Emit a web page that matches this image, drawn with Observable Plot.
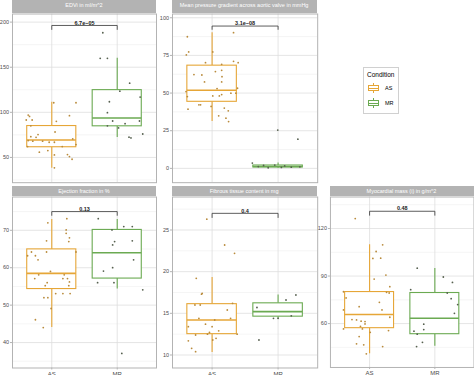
<!DOCTYPE html>
<html><head><meta charset="utf-8">
<script src="https://cdn.jsdelivr.net/npm/d3@7"></script>
<script src="https://cdn.jsdelivr.net/npm/@observablehq/plot@0.6"></script>
<style>
body{margin:0;background:#fff;}
#chart{position:relative;width:474px;height:375px;overflow:hidden;font-family:"Liberation Sans",Arial,sans-serif;}
.strip{position:absolute;background:#b3b3b3;color:#fff;font-size:5.5px;text-align:center;white-space:nowrap;overflow:hidden;}
.panel{position:absolute;}
.legend{position:absolute;border:1px solid #d0d0d0;background:#fff;box-sizing:border-box;}
.legend .title{position:absolute;left:3px;top:3px;font-size:6.5px;color:#000;}
.legend .lab{position:absolute;left:21px;font-size:5.5px;color:#000;}
.glyph{position:absolute;left:4px;width:11px;height:10px;}
.glyph .wl{position:absolute;left:5px;width:1px;top:0;height:10px;}
.glyph .bx{position:absolute;left:0;top:2px;width:9px;height:4px;border:1px solid;background:#fff;}
.glyph .md{position:absolute;left:0;top:4.5px;width:11px;height:1px;}
</style></head><body><div id="chart"></div>
<script>
// ---------- data ----------
const categories = ["AS", "MR"];
const boxColors = ["#E6A637", "#6BAA52"];
const pointColors = ["#b98b3c", "#56604f"];
const titles = ["EDVi in ml/m^2", "Mean pressure gradient across aortic valve in mmHg", "Ejection fraction in %", "Fibrous tissue content in mg", "Myocardial mass (i) in g/m^2"];
const pLabels = ["6.7e\u221205", "3.1e\u221208", "0.13", "0.4", "0.48"];
const bracketY = [196.3, 94.5, 75, 27, 130.9];
const bracketTickY = [191.9, 92.3, 74, 26.5, 128.4];
const yDomains = [[22, 209], [-9.5, 102.5], [33.2, 78.9], [8.44, 28.96], [32.3, 139.9]];
const yTicks = [[50, 100, 150, 200], [0, 25, 50, 75, 100], [40, 50, 60, 70], [10, 15, 20, 25], [60, 90, 120]];
const yMinor = [[25, 75, 125, 175], [12.5, 37.5, 62.5, 87.5], [35, 45, 55, 65, 75], [12.5, 17.5, 22.5, 27.5], [45, 75, 105, 135]];

// [jitter offset, value]
const edviAS = [[0.37,110.6],[0.03,110.6],[-0.36,97],[-0.34,95.5],[-0.30,91.5],[-0.39,91.5],[0.27,96.3],[0.07,90],[-0.32,85],[-0.21,75.3],[-0.24,72.3],[-0.32,73],[0.05,78.2],[-0.36,68.7],[-0.29,68],[-0.14,68],[-0.04,66.8],[0.04,66.8],[-0.37,62],[0.32,70.5],[0.37,64.2],[0.16,62],[-0.19,55.8],[-0.06,57.6],[0.04,52.8],[0.24,53.2],[0.27,51],[0.31,48],[0.04,38.5]];
const edviMR = [[-0.22,188.2],[-0.26,159.9],[-0.15,159.9],[0.19,132.3],[0.04,123.5],[0.35,116.9],[-0.12,111.7],[-0.15,99.6],[-0.07,90.4],[0.12,87.4],[0.34,90.4],[-0.15,85],[0.02,82.7],[0.18,72.4],[0.21,71.6],[0.39,76]];
const mpgAS = [[-0.375,87.4],[0.325,90.1],[-0.39,75.3],[-0.355,77.3],[0.01,77.3],[-0.1,70.2],[0.325,71.1],[0.395,70.2],[0.145,69.1],[-0.275,62.3],[-0.155,62],[0.05,64.3],[0.145,65.1],[0.15,60.9],[-0.115,57.4],[0.145,57.4],[-0.395,51],[0.385,53.2],[0.36,49.9],[0.285,49.9],[0.075,53],[-0.375,47.7],[0.01,48.1],[0.11,48.1],[0.145,49],[-0.2,42.2],[-0.175,42.2],[-0.365,39.3],[-0.015,41.1],[0.185,40],[0.245,38.2],[0.1,34.9],[0.21,33.3],[0.25,31.1]];
const mpgMR = [[-0.39,3.5],[-0.005,25.4],[0.3,19.4],[-0.3,1.2],[-0.15,0.4],[-0.05,2.2],[0.1,1.6],[0.2,0.8],[0.33,1.0],[-0.22,1.9],[0.05,0.6]];
const efAS = [[-0.06,72],[0.23,73.1],[0.22,70.1],[0.22,69.2],[0.27,68],[0.26,67],[-0.08,67.2],[-0.31,64.2],[-0.08,64.2],[0.37,64.2],[-0.37,63.2],[-0.25,63.2],[-0.21,62.1],[-0.02,59],[-0.2,58.1],[0.19,58.1],[-0.26,57.1],[0.17,57.1],[0.24,57.1],[-0.07,56],[0.27,56.2],[-0.1,55.2],[0.26,55.2],[0.06,53.1],[0.17,53.1],[0.28,53.1],[-0.12,52],[-0.06,52],[-0.01,49.1],[-0.25,46.1],[-0.13,44]];
const efMR = [[-0.29,73.1],[-0.08,70.1],[0.1,71],[0.23,71],[-0.04,67],[-0.07,66.1],[0.23,67.2],[0.25,62.1],[-0.07,60],[-0.21,59.1],[-0.3,56],[-0.05,56],[0.39,54.1],[0.07,37.1]];
const ftcAS = [[-0.08,26.3],[0.19,23.2],[0.34,22.2],[-0.24,19.2],[-0.16,17.3],[-0.15,17.4],[-0.26,16],[-0.18,16],[0.31,16.2],[0.23,15.4],[-0.2,14.4],[0.28,14.4],[-0.1,13.7],[0.04,14.2],[-0.36,13.4],[0,13.4],[0.1,12.9],[-0.04,12.7],[-0.25,12.4],[-0.07,12.5],[0.38,12.5],[0.01,11.8],[0.06,12],[-0.36,11.7],[-0.31,10.8],[-0.25,10.4]];
const ftcMR = [[0.27,17.2],[0.12,16.6],[-0.32,15.7],[0.2,14.7],[-0.07,14.4],[0,14.4],[-0.29,11.8]];
const mmAS = [[-0.22,126.3],[0.2,109.7],[0.1,105.5],[0.05,101.1],[0.17,101.3],[0.07,88.1],[0.25,90.6],[0.31,83.3],[-0.4,80.1],[-0.36,76.2],[0.26,79.7],[0.3,79.3],[0.15,73.4],[-0.16,70.7],[-0.4,68.6],[0.19,68.6],[0.31,64],[-0.27,62.5],[-0.2,62.3],[-0.13,61.5],[-0.07,61.3],[-0.07,59.8],[-0.14,58.3],[-0.4,56.6],[-0.11,56.6],[0.29,55.6],[0.01,54.5],[-0.16,51.8],[-0.2,47.2],[-0.09,46.6],[0.2,45.5],[-0.05,40.9]];
const mmMR = [[-0.27,95],[-0.37,81.4],[0.13,89.4],[0.27,86],[0.19,79.3],[0.25,75.7],[0.35,72],[0.3,66.5],[-0.17,59.6],[-0.17,56.2],[-0.32,55.2],[-0.27,53.3],[-0.19,48.2],[-0.28,45.5]];

// box stats: [lower whisker, q1, median, q3, upper whisker]
const edviStatsAS = [38.1, 61.3, 69.4, 84.8, 111.3];
const edviStatsMR = [72, 84.5, 93.7, 124.6, 159.9];
const mpgStatsAS = [31.1, 44.2, 51.9, 68.2, 90.1];
const mpgStatsMR = [0, 0.6, 1.2, 1.9, 3.5];
const efStatsAS = [44, 54.3, 58.5, 64.9, 72.9];
const efStatsMR = [54.3, 57.1, 64, 70.1, 72.9];
const ftcStatsAS = [10.3, 12.5, 14.2, 16.1, 19.3];
const ftcStatsMR = [14.3, 14.6, 15.2, 16.2, 17.2];
const mmStatsAS = [40.9, 57.1, 65.7, 79.9, 109.7];
const mmStatsMR = [45.7, 53.3, 63.4, 79.3, 94.8];

const pointsBy = [[edviAS, edviMR], [mpgAS, mpgMR], [efAS, efMR], [ftcAS, ftcMR], [mmAS, mmMR]];
const statsBy = [[edviStatsAS, edviStatsMR], [mpgStatsAS, mpgStatsMR], [efStatsAS, efStatsMR], [ftcStatsAS, ftcStatsMR], [mmStatsAS, mmStatsMR]];

// ---------- layout ----------
const layout = [
  {left: 12, top: 13.3, w: 144, h: 168.7, axis: false, stripTop: 0, stripH: 13.3},
  {left: 171.5, top: 13.3, w: 145.2, h: 168.7, axis: false, stripTop: 0, stripH: 13.3},
  {left: 12, top: 196, w: 144, h: 171, axis: true, stripTop: 185.5, stripH: 10.5},
  {left: 171.5, top: 196, w: 145.2, h: 171, axis: true, stripTop: 185.5, stripH: 10.5},
  {left: 329.5, top: 196, w: 144, h: 171, axis: true, stripTop: 185.5, stripH: 10.5}
];
const FONT = '"Liberation Sans", Arial, sans-serif';
const chart = document.getElementById("chart");

function boxMarks(stats, cx, color) {
  const d = [{lo: stats[0], q1: stats[1], med: stats[2], q3: stats[3], hi: stats[4], x: cx}];
  const hw = 0.375;
  return [
    Plot.ruleX(d, {x: "x", y1: "lo", y2: "q1", stroke: color, strokeWidth: 1.1}),
    Plot.ruleX(d, {x: "x", y1: "q3", y2: "hi", stroke: color, strokeWidth: 1.1}),
    Plot.rect(d, {x1: r => r.x - hw, x2: r => r.x + hw, y1: "q1", y2: "q3", fill: "white", stroke: color, strokeWidth: 1.1}),
    Plot.ruleY(d, {y: "med", x1: r => r.x - hw, x2: r => r.x + hw, stroke: color, strokeWidth: 1.6})
  ];
}

layout.forEach((L, i) => {
  const ml = 20, mr = 1, mt = 0.5, mb = L.axis ? 10 : 0.5;
  const marks = [
    Plot.ruleY(yMinor[i], {stroke: "#efefef", strokeWidth: 0.6}),
    Plot.ruleY(yTicks[i], {stroke: "#dedede", strokeWidth: 0.8}),
    Plot.ruleX([1, 2], {stroke: "#dedede", strokeWidth: 0.8}),
    Plot.axisY(yTicks[i], {tickSize: 2, tickPadding: 1.5, stroke: "#b3b3b3", fill: "#4d4d4d", fontSize: 5.5, label: null})
  ];
  if (L.axis) marks.push(Plot.axisX([1, 2], {tickSize: 2, tickPadding: 1.5, stroke: "#b3b3b3", fill: "#4d4d4d", fontSize: 6, label: null, tickFormat: d => categories[d - 1]}));
  categories.forEach((c, k) => {
    marks.push(...boxMarks(statsBy[i][k], k + 1, boxColors[k]));
  });
  categories.forEach((c, k) => {
    marks.push(Plot.dot(pointsBy[i][k], {x: d => k + 1 + d[0], y: d => d[1], r: 0.9, fill: pointColors[k], stroke: "none"}));
  });
  const br = [[1, bracketTickY[i]], [1, bracketY[i]], [2, bracketY[i]], [2, bracketTickY[i]]];
  marks.push(Plot.line(br, {x: d => d[0], y: d => d[1], stroke: "#333", strokeWidth: 0.8}));
  marks.push(Plot.text([pLabels[i]], {x: 1.5, y: bracketY[i], text: d => d, lineAnchor: "bottom", dy: -0.8, fontSize: 5.5, fontWeight: "bold", fill: "#222"}));
  marks.push(Plot.frame({stroke: "#b3b3b3", strokeWidth: 1}));

  const svg = Plot.plot({
    width: ml + L.w + mr, height: mt + L.h + mb,
    marginLeft: ml, marginRight: mr, marginTop: mt, marginBottom: mb,
    x: {domain: [0.4, 2.6], axis: null, label: null},
    y: {domain: yDomains[i], axis: null, label: null},
    style: {fontFamily: FONT, background: "transparent", overflow: "visible"},
    marks
  });
  const wrap = document.createElement("div");
  wrap.className = "panel";
  wrap.style.left = (L.left - ml) + "px";
  wrap.style.top = (L.top - mt) + "px";
  wrap.appendChild(svg);
  chart.appendChild(wrap);

  const strip = document.createElement("div");
  strip.className = "strip";
  strip.style.left = L.left + "px";
  strip.style.width = L.w + "px";
  strip.style.top = L.stripTop + "px";
  strip.style.height = L.stripH + "px";
  strip.style.lineHeight = (L.stripTop === 0 ? 11 : L.stripH) + "px";
  strip.textContent = titles[i];
  chart.appendChild(strip);
});

// legend
const legend = document.createElement("div");
legend.className = "legend";
Object.assign(legend.style, {left: "363px", top: "67px", width: "36px", height: "47px"});
const lt = document.createElement("div");
lt.className = "title"; lt.textContent = "Condition";
legend.appendChild(lt);
categories.forEach((c, k) => {
  const g = document.createElement("div");
  g.className = "glyph";
  g.style.top = (15 + k * 15) + "px";
  g.innerHTML = `<div class="wl" style="background:${boxColors[k]}"></div><div class="bx" style="border-color:${boxColors[k]}"></div><div class="md" style="background:${boxColors[k]}"></div>`;
  legend.appendChild(g);
  const lab = document.createElement("div");
  lab.className = "lab";
  lab.style.top = (17 + k * 15) + "px";
  lab.textContent = c;
  legend.appendChild(lab);
});
chart.appendChild(legend);
</script>
</body></html>
